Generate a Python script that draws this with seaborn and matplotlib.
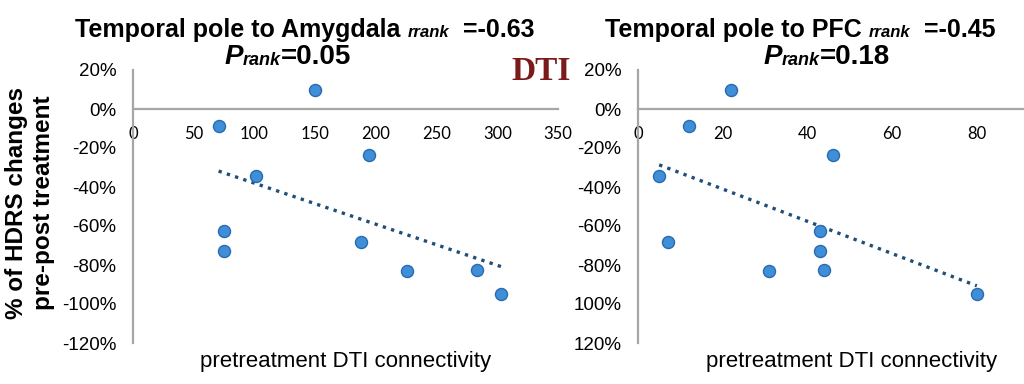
import numpy as np
import pandas as pd
import matplotlib
matplotlib.use("Agg")
import matplotlib.pyplot as plt
import seaborn as sns
from matplotlib.font_manager import FontProperties
from matplotlib.ticker import FixedLocator, FixedFormatter

# ---------------- data ----------------
hdrs_change = [10, -8.5, -34.5, -23.5, -62.5, -73, -68, -83, -82.5, -95]
amygdala_conn = [150, 70.5, 101, 194.5, 74.6, 74.6, 187.6, 226, 283.5, 303]
pfc_conn = [22, 12, 5, 46, 43, 43, 7, 31, 44, 80]

y_ticks = [20, 0, -20, -40, -60, -80, -100, -120]
y_labels_left = ["20%", "0%", "-20%", "-40%", "-60%", "-80%", "-100%", "-120%"]
y_labels_right = ["20%", "0%", "-20%", "-40%", "-60%", "-80%", "100%", "120%"]
x_ticks_left = [0, 50, 100, 150, 200, 250, 300, 350]
x_ticks_right = [0, 20, 40, 60, 80]

title_left = ("Temporal pole to Amygdala ", "rrank", "  =-0.63", "P", "rank", "=0.05")
title_right = ("Temporal pole to PFC ", "rrank", "  =-0.45", "P", "rank", "=0.18")
xlabel = "pretreatment DTI connectivity"
ylabel = "% of HDRS changes\npre-post treatment"

df_left = pd.DataFrame({"x": amygdala_conn, "y": hdrs_change})
df_right = pd.DataFrame({"x": pfc_conn, "y": hdrs_change})

# ---------------- style ----------------
sns.set_theme(style="white")
plt.rcParams["font.family"] = ["Liberation Sans", "DejaVu Sans"]
plt.rcParams["text.color"] = "black"
plt.rcParams["axes.labelcolor"] = "black"
plt.rcParams["xtick.color"] = "black"
plt.rcParams["ytick.color"] = "black"

W, H = 1024, 384
fig = plt.figure(figsize=(W / 100, H / 100), dpi=100)

def px_axes(x0, y_top, x1, y_bot):
    return [x0 / W, 1 - y_bot / H, (x1 - x0) / W, (y_bot - y_top) / H]

ax1 = fig.add_axes(px_axes(133, 70, 558, 343))
ax2 = fig.add_axes(px_axes(638, 70, 1061.5, 343))

point_face = "#3F8FD8"
point_edge = "#2A6AAE"
trend_color = "#1F4E79"
axis_gray = "#A6A6A6"

def style_axis(ax, df, xlim, xticks, ylabels):
    sns.scatterplot(data=df, x="x", y="y", ax=ax, s=75, color=point_face,
                    edgecolor=point_edge, linewidth=1.0, zorder=3, legend=False)
    sns.regplot(data=df, x="x", y="y", ax=ax, scatter=False, ci=None, truncate=True,
                line_kws=dict(color=trend_color, lw=2.4, linestyle=(0, (1, 1.6)),
                              dash_capstyle="butt", zorder=2))
    ax.set_xlim(*xlim)
    ax.set_ylim(-120, 20)
    for s in ["top", "right"]:
        ax.spines[s].set_visible(False)
    ax.spines["left"].set_color(axis_gray)
    ax.spines["left"].set_linewidth(1.6)
    ax.spines["bottom"].set_position(("data", 0))
    ax.spines["bottom"].set_color(axis_gray)
    ax.spines["bottom"].set_linewidth(1.6)
    ax.yaxis.set_major_locator(FixedLocator(y_ticks))
    ax.yaxis.set_major_formatter(FixedFormatter(ylabels))
    ax.xaxis.set_major_locator(FixedLocator(xticks))
    ax.set_xticklabels([str(t) for t in xticks])
    ax.tick_params(axis="y", length=0, pad=12, labelsize=13.5, labelcolor="black")
    ax.tick_params(axis="x", length=0, pad=12, labelsize=12, labelcolor="black")
    for lab in ax.get_xticklabels():
        lab.set_fontfamily("Lato")
    ax.set_xlabel("")
    ax.set_ylabel("")
    ax.set_facecolor("none")

style_axis(ax1, df_left, (0, 350), x_ticks_left, y_labels_left)
style_axis(ax2, df_right, (0, 100), x_ticks_right, y_labels_right)

# ---------------- titles built from styled runs ----------------
fig.canvas.draw()
renderer = fig.canvas.get_renderer()

def runs_centered(cx, y, runs):
    """Place a row of differently styled text runs centred at pixel (cx, baseline y)."""
    texts, widths = [], []
    for txt, fp, dy in runs:
        t = fig.text(0, 0, txt, fontproperties=fp, va="baseline", ha="left", color="black")
        widths.append(t.get_window_extent(renderer=renderer).width)
        texts.append((t, dy))
    x = cx - sum(widths) / 2
    for (t, dy), w in zip(texts, widths):
        t.set_position((x / W, 1 - (y + dy) / H))
        x += w

big = FontProperties(family="Liberation Sans", weight="bold", size=18)
small_it1 = FontProperties(family="Liberation Sans", weight="bold", style="italic", size=12)
big_it = FontProperties(family="Liberation Sans", weight="bold", style="italic", size=20)
small_it = FontProperties(family="Liberation Sans", weight="bold", style="italic", size=13)
big2 = FontProperties(family="Liberation Sans", weight="bold", size=20)

def make_title(cx1, cx2, parts):
    a, b, c, d, e, f = parts
    runs_centered(cx1, 37, [(a, big, 0), (b, small_it1, 0), (c, big, 0)])
    runs_centered(cx2, 64, [(d, big_it, 0), (e, small_it, 1), (f, big2, 0)])

make_title(305, 288, title_left)
make_title(800, 827, title_right)

# DTI label
fig.text(541 / W, 1 - 80 / H, "DTI", family="Liberation Serif", weight="bold",
         size=24, color="#7A1A1A", ha="center", va="baseline")

# axis labels
fig.text(30 / W, 1 - 203 / H, ylabel, rotation=90, ha="center", va="center",
         fontsize=17.5, fontweight="bold", linespacing=1.2, multialignment="center")
fig.text(346 / W, 1 - 362 / H, xlabel, ha="center", va="center", fontsize=16)
fig.text(852 / W, 1 - 362 / H, xlabel, ha="center", va="center", fontsize=16)

fig.savefig("out.png", dpi=100)
